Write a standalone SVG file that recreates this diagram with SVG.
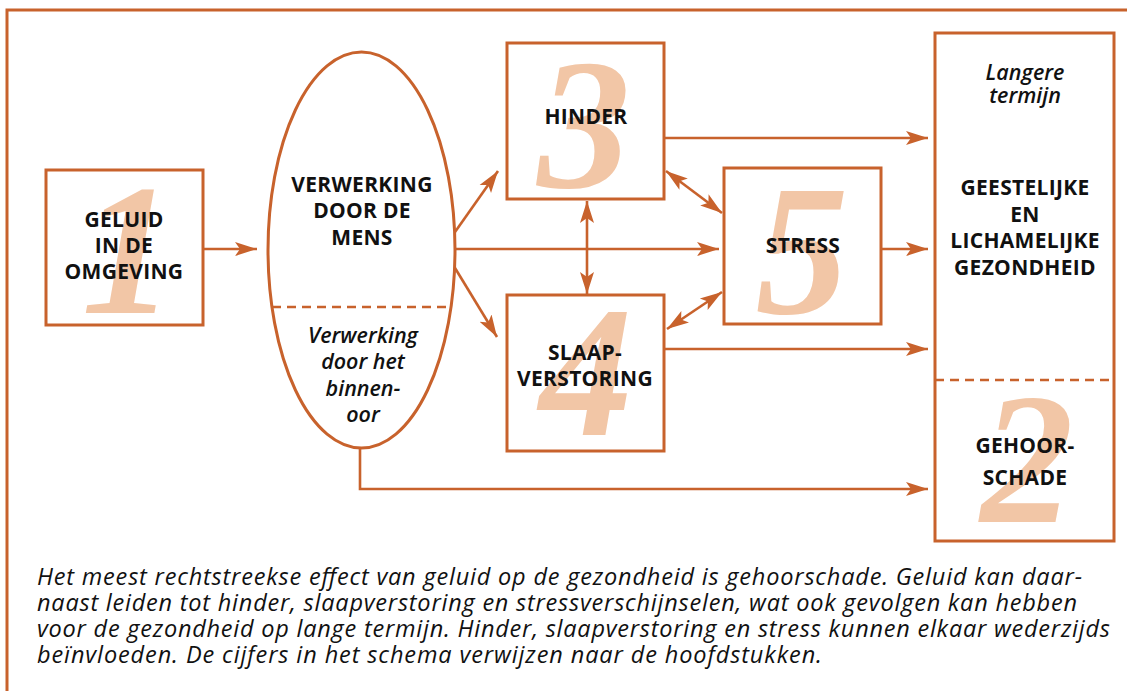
<svg xmlns="http://www.w3.org/2000/svg" width="1127" height="691" viewBox="0 0 1127 691">
<style>
.box{fill:none;stroke:#C8622C;stroke-width:3}
.ln{fill:none;stroke:#C8622C;stroke-width:2.6}
.dash{fill:none;stroke:#C8622C;stroke-width:2.6;stroke-dasharray:9 6}
.lbl{font-family:"Open Sans","Liberation Sans",sans-serif;font-weight:bold;font-size:21px;letter-spacing:0.3px;fill:#111;text-anchor:middle}
.it{font-family:"Open Sans","Liberation Sans",sans-serif;font-style:italic;font-weight:600;font-size:21.5px;fill:#111;text-anchor:middle}
.num{font-family:"Liberation Serif","DejaVu Serif",serif;font-style:italic;font-weight:bold;font-size:186px;fill:#F2C6A6;text-anchor:middle}
.cap{font-family:"Open Sans","Liberation Sans",sans-serif;font-style:italic;font-size:23.5px;fill:#111}
</style>
<defs>
<marker id="ah" markerUnits="userSpaceOnUse" markerWidth="26" markerHeight="18" refX="22" refY="8" orient="auto-start-reverse" viewBox="0 0 26 18">
<path d="M0,1 L22,8 L0,15 L5,8 Z" fill="#C8622C"/>
</marker>
</defs>
<rect width="1127" height="691" fill="#fff"/>
<path class="box" d="M7,691 V10 H1127"/>

<g id="node1">
<text class="num" x="128" y="313">1</text>
<rect class="box" x="46" y="170" width="157" height="155"/>
<text class="lbl" x="124" y="227">GELUID</text>
<text class="lbl" x="124" y="253">IN DE</text>
<text class="lbl" x="124" y="279">OMGEVING</text>
</g>

<g id="ellipse">
<ellipse class="box" cx="361.5" cy="250" rx="93.5" ry="198"/>
<line class="dash" x1="272" y1="307" x2="451" y2="307"/>
<text class="lbl" x="362" y="192">VERWERKING</text>
<text class="lbl" x="362" y="218">DOOR DE</text>
<text class="lbl" x="362" y="245">MENS</text>
<text class="it" x="363" y="343">Verwerking</text>
<text class="it" x="363" y="369">door het</text>
<text class="it" x="363" y="396">binnen-</text>
<text class="it" x="363" y="422">oor</text>
</g>

<g id="node3">
<text class="num" x="584" y="187">3</text>
<rect class="box" x="507" y="43" width="157" height="156"/>
<text class="lbl" x="586" y="124">HINDER</text>
</g>

<g id="node4">
<text class="num" x="586" y="435">4</text>
<rect class="box" x="507" y="295" width="157" height="156"/>
<text class="lbl" x="585" y="360">SLAAP-</text>
<text class="lbl" x="585" y="386">VERSTORING</text>
</g>

<g id="node5">
<text class="num" x="802" y="313">5</text>
<rect class="box" x="724" y="168" width="157" height="156"/>
<text class="lbl" x="803" y="253">STRESS</text>
</g>

<g id="node2">
<text class="num" x="1027" y="522">2</text>
<rect class="box" x="935" y="33" width="179" height="508"/>
<line class="dash" x1="935" y1="380" x2="1114" y2="380"/>
<text class="it" x="1025" y="80">Langere</text>
<text class="it" x="1025" y="103">termijn</text>
<text class="lbl" x="1025" y="195">GEESTELIJKE</text>
<text class="lbl" x="1025" y="222">EN</text>
<text class="lbl" x="1025" y="248">LICHAMELIJKE</text>
<text class="lbl" x="1025" y="275">GEZONDHEID</text>
<text class="lbl" x="1025" y="453">GEHOOR-</text>
<text class="lbl" x="1025" y="485">SCHADE</text>
</g>

<g id="connectors">
<line class="ln" x1="203" y1="249" x2="257" y2="249" marker-end="url(#ah)"/>
<line class="ln" x1="455" y1="232" x2="498" y2="171" marker-end="url(#ah)"/>
<line class="ln" x1="455" y1="268" x2="497" y2="337" marker-end="url(#ah)"/>
<line class="ln" x1="455" y1="249" x2="719" y2="249" marker-end="url(#ah)"/>
<line class="ln" x1="664" y1="138" x2="928" y2="138" marker-end="url(#ah)"/>
<line class="ln" x1="664" y1="349" x2="928" y2="349" marker-end="url(#ah)"/>
<line class="ln" x1="881" y1="249" x2="928" y2="249" marker-end="url(#ah)"/>
<line class="ln" x1="587" y1="201" x2="587" y2="294" marker-start="url(#ah)" marker-end="url(#ah)"/>
<line class="ln" x1="666" y1="171" x2="722" y2="213" marker-start="url(#ah)" marker-end="url(#ah)"/>
<line class="ln" x1="667" y1="329" x2="722" y2="292" marker-start="url(#ah)" marker-end="url(#ah)"/>
<path class="ln" d="M360,448 V489 H928" marker-end="url(#ah)"/>
</g>

<g id="caption">
<text class="cap" x="37" y="585" textLength="1045" lengthAdjust="spacing">Het meest rechtstreekse effect van geluid op de gezondheid is gehoorschade. Geluid kan daar-</text>
<text class="cap" x="37" y="611" textLength="1040" lengthAdjust="spacing">naast leiden tot hinder, slaapverstoring en stressverschijnselen, wat ook gevolgen kan hebben</text>
<text class="cap" x="37" y="637" textLength="1073" lengthAdjust="spacing">voor de gezondheid op lange termijn. Hinder, slaapverstoring en stress kunnen elkaar wederzijds</text>
<text class="cap" x="37" y="663" textLength="785" lengthAdjust="spacing">beïnvloeden. De cijfers in het schema verwijzen naar de hoofdstukken.</text>
</g>
</svg>
